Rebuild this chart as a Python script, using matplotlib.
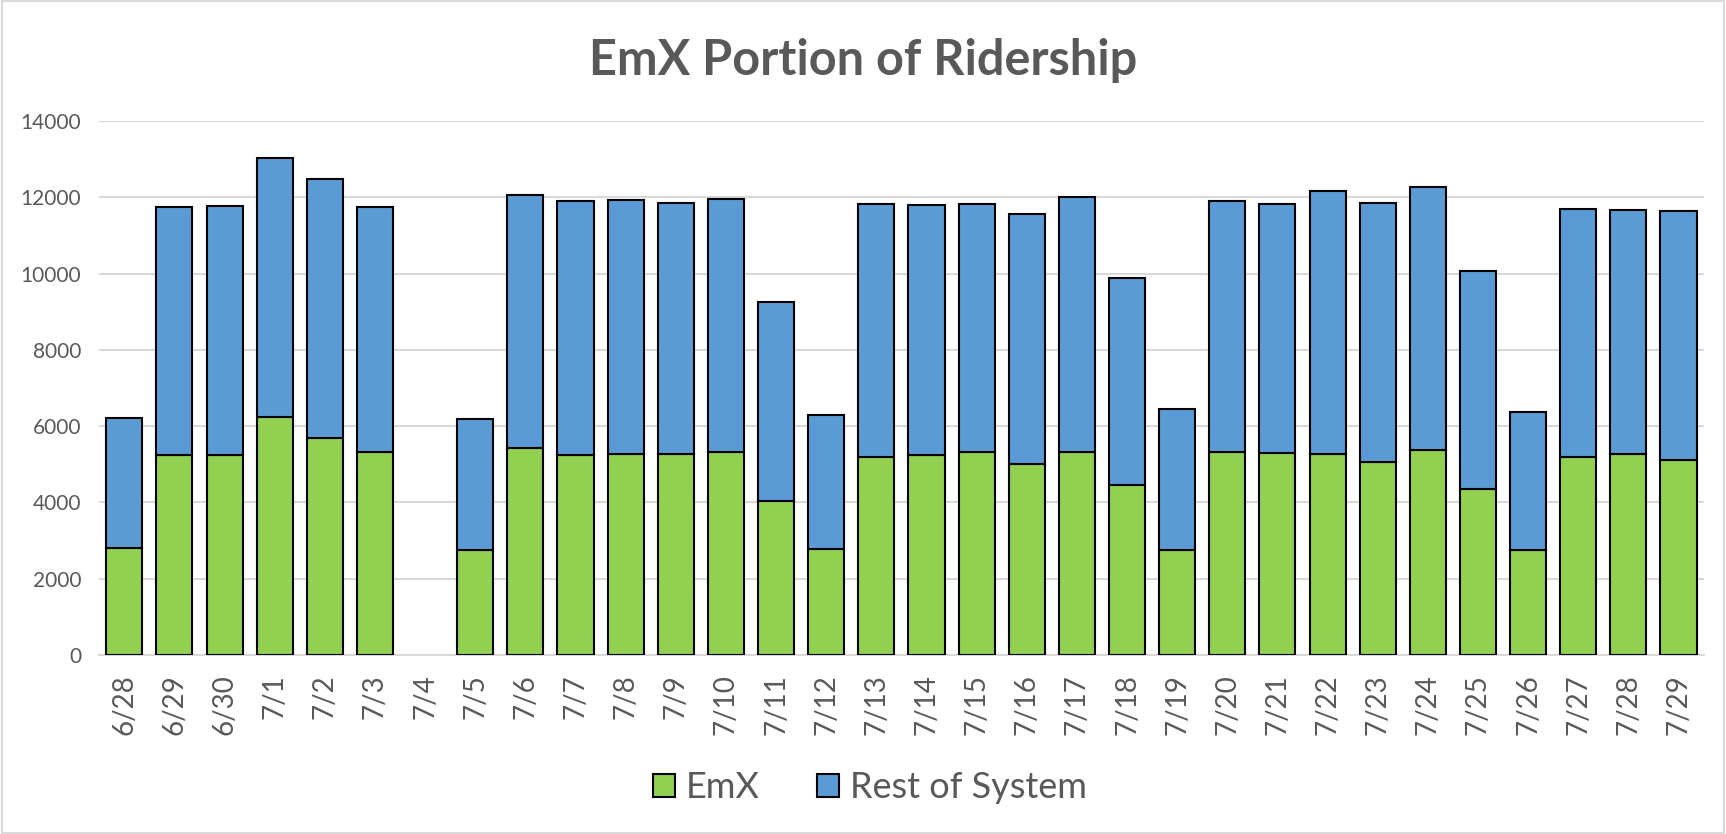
"""Stacked bar chart: EmX share of daily ridership, 6/28 - 7/29."""

import matplotlib

matplotlib.use("Agg")
import matplotlib.pyplot as plt
import numpy as np
from matplotlib.patches import Rectangle

dates = [
    "6/28", "6/29", "6/30", "7/1", "7/2", "7/3", "7/4", "7/5",
    "7/6", "7/7", "7/8", "7/9", "7/10", "7/11", "7/12", "7/13",
    "7/14", "7/15", "7/16", "7/17", "7/18", "7/19", "7/20", "7/21",
    "7/22", "7/23", "7/24", "7/25", "7/26", "7/27", "7/28", "7/29",
]
# 7/4 has no data (holiday) -> None
emx = [
    2810, 5250, 5250, 6240, 5700, 5310, None, 2760,
    5420, 5240, 5280, 5270, 5320, 4030, 2770, 5200,
    5245, 5320, 5010, 5320, 4445, 2750, 5330, 5300,
    5280, 5050, 5370, 4340, 2750, 5190, 5260, 5120,
]
rest_of_system = [
    3390, 6500, 6520, 6780, 6770, 6440, None, 3430,
    6650, 6660, 6650, 6580, 6640, 5220, 3530, 6630,
    6545, 6500, 6540, 6680, 5435, 3710, 6560, 6530,
    6890, 6800, 6910, 5730, 3620, 6490, 6400, 6530,
]
y_ticks = [0, 2000, 4000, 6000, 8000, 10000, 12000, 14000]

GREEN = "#92D050"
BLUE = "#5B9BD5"
GRID = "#D9D9D9"
TEXT = "#595959"

plt.rcParams["font.family"] = ["Lato", "DejaVu Sans"]


def main() -> None:
    x = np.arange(len(dates))
    emx_vals = np.array([np.nan if v is None else v for v in emx], dtype=float)
    rest_vals = np.array([np.nan if v is None else v for v in rest_of_system], dtype=float)

    fig = plt.figure(figsize=(17.26, 8.34), dpi=100)
    ax = fig.add_axes([0.0575, 0.2146, 0.9295, 0.6404])

    width = 0.72
    ax.bar(x, emx_vals, width, color=GREEN, edgecolor="black", linewidth=1.5,
           label="EmX", zorder=3)
    ax.bar(x, rest_vals, width, bottom=emx_vals, color=BLUE, edgecolor="black",
           linewidth=1.5, label="Rest of System", zorder=3)

    ax.set_xlim(-0.5, len(dates) - 0.5)
    ax.set_ylim(0, 14000)
    ax.set_yticks(y_ticks)
    ax.set_xticks(x)
    ax.set_xticklabels(dates, rotation=90)
    ax.tick_params(axis="x", length=0, pad=14, labelsize=20, labelcolor=TEXT)
    ax.tick_params(axis="y", length=0, pad=13, labelsize=15, labelcolor=TEXT)

    ax.yaxis.grid(True, color=GRID, linewidth=1.5, zorder=0)
    ax.set_axisbelow(True)
    for side in ("top", "right", "left"):
        ax.spines[side].set_visible(False)
    ax.spines["bottom"].set_color(GRID)
    ax.spines["bottom"].set_linewidth(1.5)

    fig.text(0.5, 0.928, "EmX Portion of Ridership", ha="center", va="center",
             fontsize=35, fontweight="bold", color=TEXT)

    leg = fig.legend(loc="center", bbox_to_anchor=(0.504, 0.056), ncol=2,
                     frameon=False, fontsize=26, handlelength=0.6,
                     handleheight=0.6, handletextpad=0.3, columnspacing=1.6)
    for t in leg.get_texts():
        t.set_color(TEXT)

    # light grey chart-area border
    fig.patches.append(Rectangle((0.001, 0.001), 0.998, 0.998, transform=fig.transFigure,
                                 fill=False, edgecolor=GRID, linewidth=1.5))

    fig.savefig("out.png", dpi=100)


if __name__ == "__main__":
    main()
